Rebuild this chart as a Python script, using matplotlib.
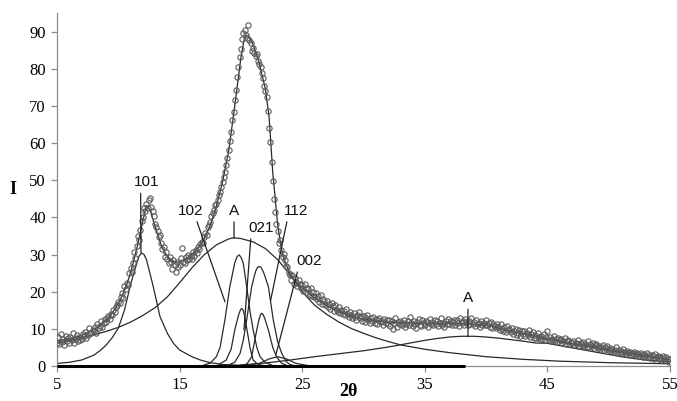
import numpy as np
import matplotlib.pyplot as plt

# measured points, 2theta from 5 to 55 step 0.1
two_theta = np.round(np.arange(5.0, 55.05, 0.1), 1)
intensity = [
    6.2, 7.8, 5.9, 8.6, 6.5, 7.4, 5.7, 8.0, 6.8, 7.6,
    6.3, 7.9, 6.9, 8.8, 6.1, 7.2, 8.3, 6.6, 7.7, 7.0,
    7.4, 8.6, 8.0, 9.1, 7.6, 8.3, 10.2, 8.8, 9.0, 9.6,
    9.3, 10.5, 9.0, 11.2, 10.1, 10.8, 12.0, 10.6, 11.5, 12.6,
    11.8, 12.9, 13.5, 12.6, 14.1, 13.8, 15.2, 14.6, 15.9, 16.4,
    17.3, 16.9, 18.5, 19.6, 18.2, 21.4, 20.6, 22.3, 21.8, 24.9,
    26.4, 25.3, 27.8, 30.6, 29.1, 32.4, 35.1, 34.0, 36.6, 38.9,
    40.2, 42.5, 41.8, 43.6, 42.4, 44.7, 45.3, 42.9, 41.7, 40.4,
    38.2, 37.5, 36.3, 34.8, 35.2, 33.0, 31.5, 32.1, 29.4, 30.6,
    28.8, 27.6, 29.2, 28.0, 26.1, 28.5, 27.3, 25.4, 27.9, 26.6,
    27.2, 29.0, 31.8, 28.1, 27.7, 29.3, 28.4, 30.0, 28.8, 29.6,
    28.9, 30.8, 29.7, 31.2, 30.3, 32.0, 31.4, 32.8, 33.5, 33.0,
    34.6, 35.9, 35.2, 37.4, 38.0, 38.8, 40.3, 41.1, 42.0, 43.4,
    43.6, 44.8, 45.9, 46.9, 48.2, 49.5, 50.8, 52.3, 54.2, 56.0,
    58.1, 60.5, 63.0, 66.2, 68.4, 71.7, 74.3, 77.9, 80.6, 83.2,
    85.2, 87.9, 89.6, 90.3, 89.1, 88.4, 91.9, 87.6, 86.9, 84.8,
    85.6, 84.3, 83.5, 84.1, 82.0, 81.2, 80.4, 78.9, 77.6, 75.4,
    74.0, 72.3, 68.5, 64.1, 60.2, 54.8, 49.7, 45.0, 41.5, 38.3,
    36.2, 33.1, 34.0, 31.2, 29.3, 30.1, 28.4, 27.0, 26.6, 25.1,
    24.5, 23.2, 24.6, 22.0, 23.8, 22.7, 21.4, 23.1, 22.2, 20.9,
    21.7, 20.3, 22.1, 19.8, 21.0, 20.6, 19.2, 20.9, 18.8, 19.9,
    18.5, 19.6, 17.9, 18.8, 17.2, 19.0, 16.8, 18.1, 17.5, 16.4,
    17.6, 15.9, 16.8, 15.4, 17.0, 16.1, 14.8, 16.3, 15.2, 14.6,
    15.8, 14.3, 15.1, 13.9, 14.9, 13.6, 15.4, 14.0, 13.3, 14.6,
    13.8, 12.9, 14.2, 13.1, 12.5, 13.7, 14.4, 12.8, 13.5, 12.2,
    13.4, 11.9, 12.8, 13.6, 12.3, 11.5, 12.9, 12.1, 13.2, 11.7,
    12.6, 11.3, 12.4, 13.0, 11.8, 12.2, 11.0, 12.7, 11.6, 12.3,
    11.4, 12.5, 10.8, 12.0, 9.9, 11.7, 12.8, 10.5, 11.9, 11.2,
    12.1, 10.9, 11.6, 12.4, 10.6, 11.3, 12.0, 11.0, 13.1, 11.5,
    10.8, 12.2, 11.4, 10.3, 11.9, 12.6, 11.1, 10.7, 12.3, 11.6,
    11.0, 12.0, 11.8, 10.5, 12.7, 11.3, 11.9, 10.9, 12.4, 11.2,
    12.1, 10.8, 11.5, 12.9, 11.1, 11.7, 10.6, 12.2, 11.4, 12.6,
    11.3, 12.0, 10.9, 11.8, 12.5, 11.1, 12.3, 11.6, 10.7, 12.8,
    11.5, 12.2, 11.0, 12.6, 11.8, 10.9, 12.1, 11.4, 12.9, 11.2,
    11.9, 10.8, 12.4, 11.3, 11.6, 10.5, 12.0, 11.1, 11.7, 10.9,
    12.3, 11.0, 11.5, 10.6, 11.8, 10.2, 11.3, 10.8, 10.1, 11.4,
    10.6, 9.8, 11.2, 10.0, 9.4, 10.4, 9.1, 10.8, 9.6, 9.9,
    9.2, 10.1, 8.7, 9.5, 9.9, 8.4, 9.0, 9.7, 8.2, 9.3,
    8.6, 9.4, 8.0, 8.9, 8.3, 9.6, 7.8, 8.5, 9.1, 7.6,
    8.4, 7.5, 8.8, 7.9, 7.2, 8.1, 7.4, 8.6, 6.9, 7.7,
    9.3, 7.1, 7.8, 6.6, 7.4, 8.0, 6.8, 7.2, 6.4, 7.6,
    6.9, 7.3, 6.2, 6.8, 7.5, 6.0, 6.6, 7.0, 5.8, 6.5,
    6.1, 6.7, 5.6, 6.3, 5.9, 6.9, 5.4, 6.2, 5.7, 6.4,
    5.5, 6.0, 5.2, 6.6, 5.0, 5.8, 5.3, 6.1, 4.8, 5.6,
    5.9, 4.9, 5.4, 4.6, 5.1, 5.7, 4.4, 5.0, 4.7, 5.3,
    4.3, 4.9, 4.0, 4.6, 3.8, 4.4, 5.1, 3.9, 4.2, 3.6,
    4.0, 3.5, 4.5, 3.7, 3.2, 4.1, 3.4, 3.9, 3.0, 3.6,
    3.3, 3.8, 2.9, 3.5, 3.1, 2.7, 3.6, 3.0, 2.5, 3.2,
    2.8, 3.4, 2.4, 3.0, 2.2, 2.9, 2.6, 2.0, 3.1, 2.3,
    2.7, 1.9, 2.4, 1.6, 2.8, 2.1, 1.5, 2.3, 1.8, 1.2,
    1.9,
]

# fitted envelope
fit_x = [5, 6, 7, 8, 9, 9.5, 10, 10.5, 11, 11.5, 12, 12.3, 12.6, 13, 13.5, 14, 14.5, 15, 15.5, 16,
         16.5, 17, 17.5, 18, 18.5, 19, 19.5, 20, 20.3, 20.6, 21, 21.5, 22, 22.3, 22.6, 23, 23.3, 23.6,
         24, 24.5, 25, 26, 27, 28, 29, 30, 32, 34, 36, 38, 40, 42, 44, 46, 48, 50, 52, 54, 55]
fit_y = [6.8, 7.3, 8.2, 9.8, 12.3, 14.2, 16.8, 20.2, 25.0, 31.5, 39.0, 43.2, 42.0, 37.5, 32.5, 29.3, 28.0, 28.0, 28.8, 30.0,
         31.8, 34.3, 37.8, 43.0, 49.5, 57.8, 70.0, 83.0, 88.5, 89.0, 86.5, 81.5, 74.5, 67.0, 52.0, 38.0, 31.5, 28.0,
         24.8, 22.5, 21.0, 18.3, 16.2, 14.6, 13.4, 12.6, 11.8, 11.5, 11.4, 11.4, 11.0, 9.4, 8.0, 6.6, 5.4, 4.2, 3.2, 2.2, 1.7]

# components
p101_x = [5, 6, 7, 8, 8.5, 9, 9.5, 10, 10.5, 11, 11.5, 11.7, 11.9, 12.1, 12.3, 12.85, 13.4, 14, 14.5, 15, 16, 16.7, 17.5, 18.5, 20]
p101_y = [0.7, 1.0, 1.6, 2.9, 4.1, 5.6, 7.6, 10.2, 15.0, 21.9, 27.6, 29.6, 30.4, 30.0, 28.6, 21.4, 13.3, 8.8, 6.1, 4.3, 2.5, 1.6, 0.9, 0.4, 0.2]

broad_a_x = [5, 6, 7, 8, 9, 10, 11, 12, 13, 14, 15, 16, 17, 18, 19, 19.4, 20, 21, 22, 23, 24, 25, 26, 27,
             28, 29, 30, 31, 32, 33, 35, 37, 40, 43, 46, 50, 55]
broad_a_y = [6.1, 6.8, 7.6, 8.4, 9.3, 10.4, 11.8, 13.6, 15.7, 18.6, 22.4, 26.4, 29.9, 32.6, 34.2, 34.5, 34.3, 33.4, 31.6, 28.6, 24.6, 20.0, 16.4, 13.9,
             11.8, 10.1, 8.8, 7.6, 6.6, 5.7, 4.5, 3.6, 2.5, 1.8, 1.3, 0.9, 0.6]

sharp_a_x = [17.0, 17.5, 18.0, 18.3, 18.7, 19.1, 19.5, 19.7, 19.87, 20.05, 20.2, 20.47, 20.75, 21.0, 21.3, 21.56, 22.0, 22.5]
sharp_a_y = [0.3, 0.8, 2.5, 5.0, 12.5, 21.4, 27.8, 29.5, 29.9, 29.0, 27.5, 21.4, 14.5, 9.7, 5.0, 2.5, 0.9, 0.3]

p102_x = [18.2, 18.8, 19.2, 19.5, 19.8, 19.95, 20.06, 20.2, 20.3, 20.5, 20.75, 21.0, 21.4, 21.9]
p102_y = [0.4, 1.6, 4.5, 9.7, 13.6, 15.0, 15.5, 14.9, 13.5, 9.7, 4.8, 1.6, 0.4, 0.1]

p021_x = [19.0, 19.5, 19.93, 20.2, 20.47, 20.88, 21.2, 21.35, 21.5, 21.65, 21.85, 22.24, 22.64, 23.0, 23.33, 23.7, 24.0, 24.4]
p021_y = [0.3, 1.0, 3.4, 7.0, 12.4, 21.4, 25.5, 26.5, 26.8, 26.5, 25.2, 21.4, 12.4, 6.5, 3.4, 1.2, 0.4, 0.1]

p112_x = [20.2, 20.5, 20.88, 21.29, 21.5, 21.6, 21.7, 21.8, 21.95, 22.24, 22.6, 22.9, 23.3, 23.7]
p112_y = [0.2, 0.6, 2.5, 9.7, 12.8, 13.8, 14.2, 13.9, 12.8, 9.7, 5.0, 2.5, 0.8, 0.2]

p002_x = [20.5, 21.5, 22.3, 23.0, 23.7, 24.5, 25.5]
p002_y = [0.1, 0.7, 1.9, 2.5, 1.9, 0.7, 0.1]

second_a_x = [20, 22, 24, 26, 28, 30, 32, 33, 34, 35, 36, 37, 38, 38.5, 39, 40, 41, 42, 43, 44, 45, 46, 48, 50, 51.2, 53, 55]
second_a_y = [0.3, 0.8, 1.6, 2.5, 3.3, 4.1, 5.1, 5.7, 6.3, 6.9, 7.4, 7.8, 8.0, 8.0, 8.0, 7.8, 7.5, 7.1, 6.7, 6.2, 6.1, 5.5, 4.3, 3.1, 2.4, 1.6, 1.1]

baseline_x = [5, 38.3]
baseline_y = [0, 0]

fig = plt.figure(figsize=(6.77, 4.01), dpi=100)
ax = fig.add_axes([57 / 677, 35 / 401, 613 / 677, 353 / 401])

line_kw = dict(color="#2a2a2a", lw=0.9)
for xs, ys in [(p101_x, p101_y), (broad_a_x, broad_a_y), (sharp_a_x, sharp_a_y), (p102_x, p102_y),
               (p021_x, p021_y), (p112_x, p112_y), (p002_x, p002_y), (second_a_x, second_a_y)]:
    ax.plot(xs, ys, **line_kw)
ax.plot(fit_x, fit_y, **line_kw)
ax.plot(baseline_x, baseline_y, color="black", lw=2.2, solid_capstyle="butt", clip_on=False, zorder=4)
ax.plot(two_theta, intensity, "o", ms=3.8, mfc="none", mec="#5a5a5a", mew=0.8, zorder=3)

# peak labels with leader lines: text, point, text position (centre, bottom), leader start
lab_kw = dict(fontsize=11, family="Liberation Sans", ha="center", va="bottom", color="#111111")
labels = [
    ("101", (11.85, 30.5), (12.32, 47.6), 0.26),
    ("102", (18.7, 17.3), (15.91, 39.9), 0.69),
    ("A", (19.44, 34.4), (19.44, 39.9), 0.5),
    ("021", (20.25, 9.7), (21.64, 35.3), 0.11),
    ("112", (22.42, 17.6), (24.53, 39.9), 0.14),
    ("002", (22.85, 3.0), (25.55, 26.4), 0.09),
    ("A", (38.52, 7.9), (38.52, 16.4), 0.5),
]
for text, xy, xytext, rel in labels:
    ax.annotate(text, xy=xy, xytext=xytext, **lab_kw,
                arrowprops=dict(arrowstyle="-", lw=0.9, color="#222222", relpos=(rel, 0),
                                shrinkA=1, shrinkB=0))

ax.set_xlim(5, 55)
ax.set_ylim(0, 95)
ax.set_xticks([5, 15, 25, 35, 45, 55])
ax.set_yticks(range(0, 91, 10))
for s in ["top", "right"]:
    ax.spines[s].set_visible(False)
for s in ["left", "bottom"]:
    ax.spines[s].set_color("#8c8c8c")
    ax.spines[s].set_linewidth(0.9)
ax.tick_params(direction="out", length=4, width=0.9, color="#8c8c8c", labelsize=12, pad=4)
for t in ax.get_xticklabels() + ax.get_yticklabels():
    t.set_family("Liberation Serif")

fig.text(13 / 677, 1 - 190 / 401, "I", ha="center", va="center", fontsize=13,
         weight="bold", family="Liberation Serif")
fig.text(348 / 677, 1 / 401, "2θ", ha="center", va="bottom", fontsize=13,
         weight="bold", family="Liberation Serif")

fig.savefig("out.png", dpi=100)
